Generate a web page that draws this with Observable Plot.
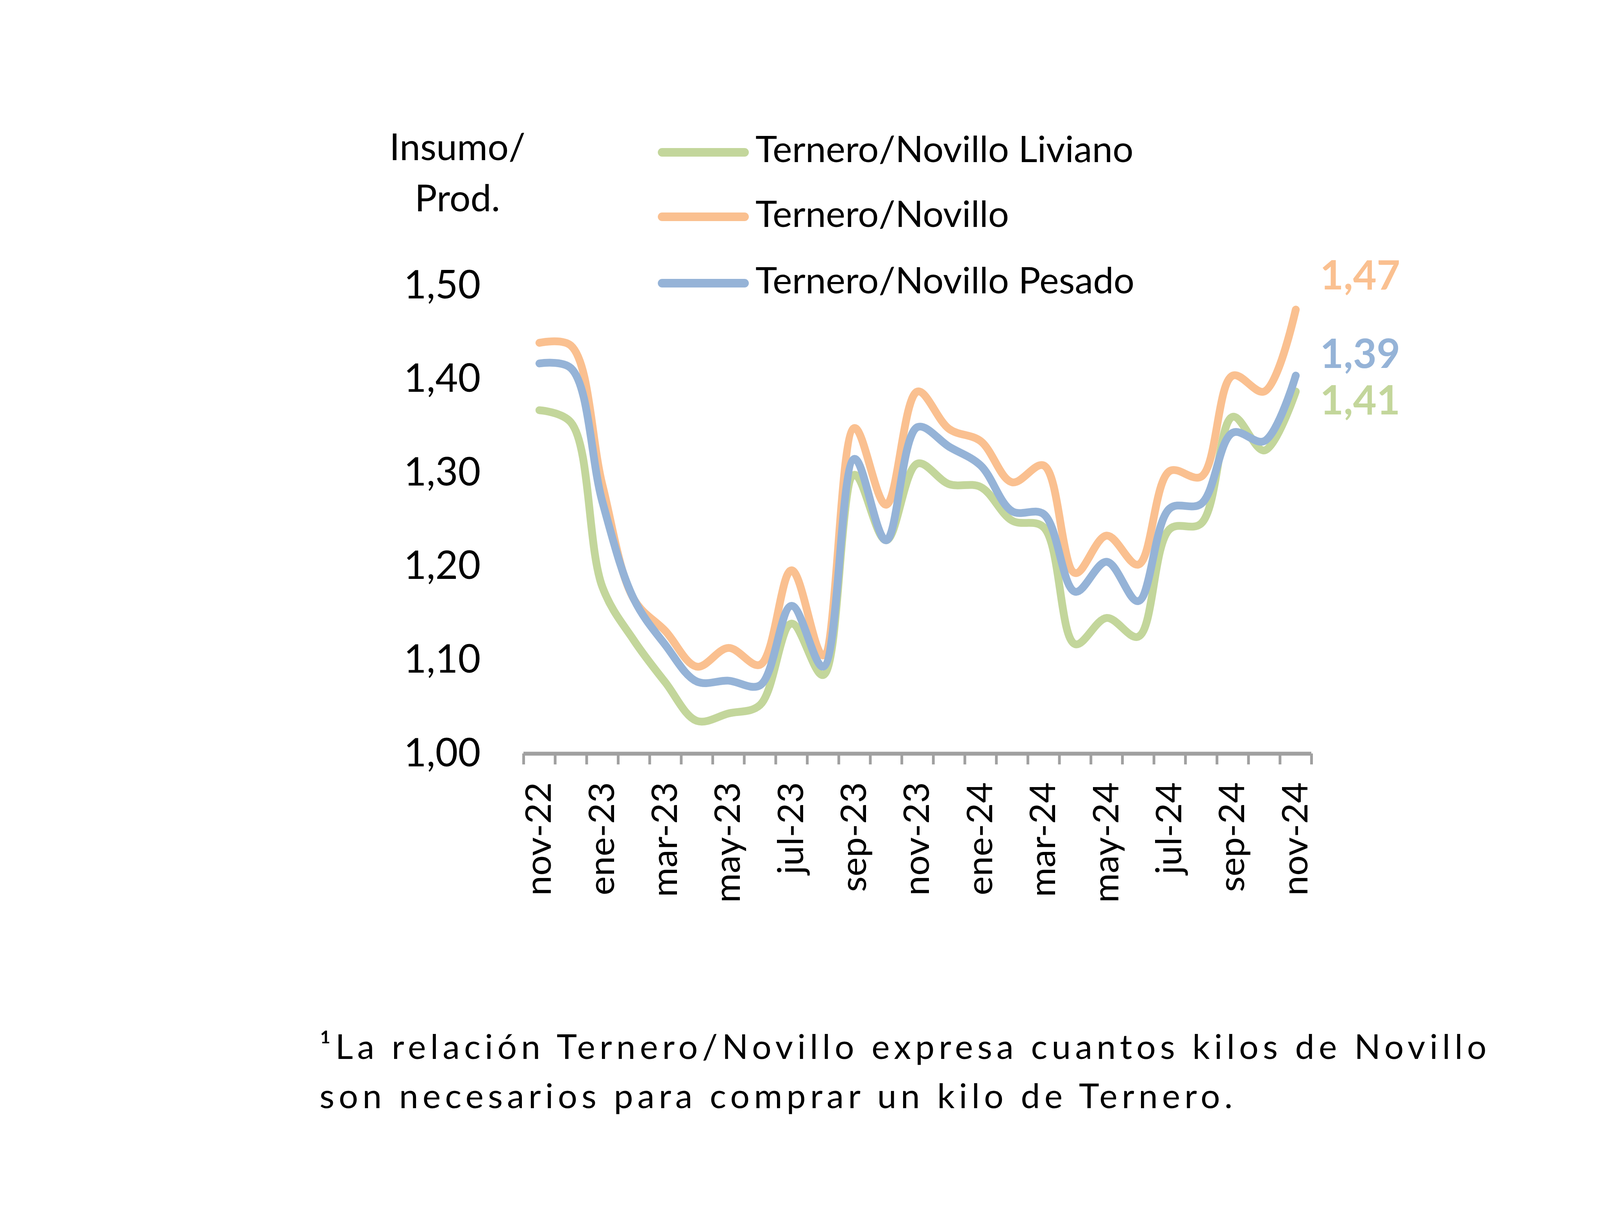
<!DOCTYPE html>
<html>
<head>
<meta charset="utf-8">
<script src="https://cdn.jsdelivr.net/npm/d3@7"></script>
<script src="https://cdn.jsdelivr.net/npm/@observablehq/plot@0.6"></script>
<style>
  html, body { margin: 0; padding: 0; background: #fff; }
  #wrap { position: relative; width: 4500px; height: 3131px; overflow: hidden; font-family: Lato, sans-serif; color: #000; }
  #chart { position: absolute; left: 0; top: 0; }
  .abs { position: absolute; white-space: nowrap; line-height: 1; }
  .ytitle { width: 600px; text-align: center; font-size: 95px; }
  .sw { position: absolute; width: 233px; height: 22px; border-radius: 11px; }
  .lgtxt { font-size: 94px; }
  #note { font-size: 88px; line-height: 126px; letter-spacing: 11px; }
</style>
</head>
<body>
<div id="wrap">
  <div id="chart"></div>
  <div class="abs ytitle" style="left:871px; top:326px;">Insumo/</div>
  <div class="abs ytitle" style="left:871px; top:457px;">Prod.</div>
  <div id="legend"></div>
  <div id="note" class="abs" style="left:818px; top:2614px;">¹La relación Ternero/Novillo expresa cuantos kilos de Novillo<br>son necesarios para comprar un kilo de Ternero.</div>
</div>
<script>
// ---- data ----
const months = ["nov-22","dic-22","ene-23","feb-23","mar-23","abr-23","may-23","jun-23","jul-23","ago-23","sep-23","oct-23",
                "nov-23","dic-23","ene-24","feb-24","mar-24","abr-24","may-24","jun-24","jul-24","ago-24","sep-24","oct-24","nov-24"];
const liviano = [1.367,1.354,1.178,1.121,1.076,1.035,1.043,1.052,1.139,1.084,1.298,1.228,
                 1.310,1.288,1.285,1.249,1.242,1.117,1.145,1.125,1.240,1.246,1.360,1.324,1.387];
const novillo = [1.439,1.436,1.287,1.165,1.131,1.093,1.113,1.095,1.196,1.105,1.348,1.266,
                 1.387,1.347,1.334,1.290,1.308,1.193,1.233,1.202,1.302,1.296,1.404,1.387,1.4745];
const pesado  = [1.417,1.412,1.269,1.165,1.116,1.077,1.078,1.073,1.158,1.093,1.315,1.228,
                 1.349,1.328,1.308,1.259,1.256,1.173,1.205,1.163,1.262,1.267,1.343,1.334,1.404];
const seriesNames = ["Ternero/Novillo Liviano","Ternero/Novillo","Ternero/Novillo Pesado"];
const seriesColors = ["#c3d69b","#fac090","#95b3d7"];
const endLabels = ["1,41","1,47","1,39"];
const endLabelDy = [25,-85,-53];
const yTicks = [1.0,1.1,1.2,1.3,1.4,1.5];

const seriesValues = [liviano, novillo, pesado];
const fmt = d => d.toFixed(2).replace(".", ",");
const n = months.length;

const lineMarks = seriesValues.map((vals, k) =>
  Plot.line(vals, {x: (d, i) => i, y: d => d, stroke: seriesColors[k], strokeWidth: 20,
                   curve: "catmull-rom", strokeLinecap: "round", strokeLinejoin: "round"}));

const labelMarks = seriesValues.map((vals, k) =>
  Plot.text([vals[n - 1]], {x: n - 1, y: d => d, text: () => endLabels[k], fill: seriesColors[k],
                            fontWeight: "bold", fontSize: 104, textAnchor: "start", dx: 62, dy: endLabelDy[k]}));

const chart = Plot.plot({
  width: 4500, height: 3131,
  marginLeft: 1340, marginRight: 1143, marginTop: 731, marginBottom: 1202,
  x: {domain: [-0.5, n - 0.5], axis: null},
  y: {domain: [1.0, 1.5], axis: null},
  style: {fontFamily: "Lato, sans-serif", color: "#000", background: "transparent", overflow: "visible"},
  marks: [
    Plot.axisY({ticks: yTicks, tickSize: 0, tickPadding: 110, tickFormat: fmt, fontSize: 100, anchor: "left"}),
    Plot.axisX({ticks: d3.range(n + 1).map(k => k - 0.5), tickSize: 28, tickFormat: () => "",
                stroke: "#a0a0a0", strokeWidth: 7, anchor: "bottom"}),
    Plot.ruleY([yTicks[0]], {stroke: "#a0a0a0", strokeWidth: 10}),
    Plot.axisX({ticks: d3.range(0, n, 2), tickSize: 0, tickPadding: 73, tickRotate: -90,
                tickFormat: i => months[i], fontSize: 92, anchor: "bottom"}),
    ...lineMarks,
    ...labelMarks
  ]
});
document.getElementById("chart").appendChild(chart);

// legend
const legend = document.getElementById("legend");
const lineCenters = [390, 555, 725];
const textCapCenters = [382, 548, 718];
seriesNames.forEach((name, k) => {
  const sw = document.createElement("div");
  sw.className = "sw";
  sw.style.left = "1684px";
  sw.style.top = (lineCenters[k] - 11) + "px";
  sw.style.background = seriesColors[k];
  legend.appendChild(sw);
  const t = document.createElement("div");
  t.className = "abs lgtxt";
  t.style.left = "1934px";
  t.style.top = (textCapCenters[k] - 0.529 * 94) + "px";
  t.textContent = name;
  legend.appendChild(t);
});
</script>
</body>
</html>
